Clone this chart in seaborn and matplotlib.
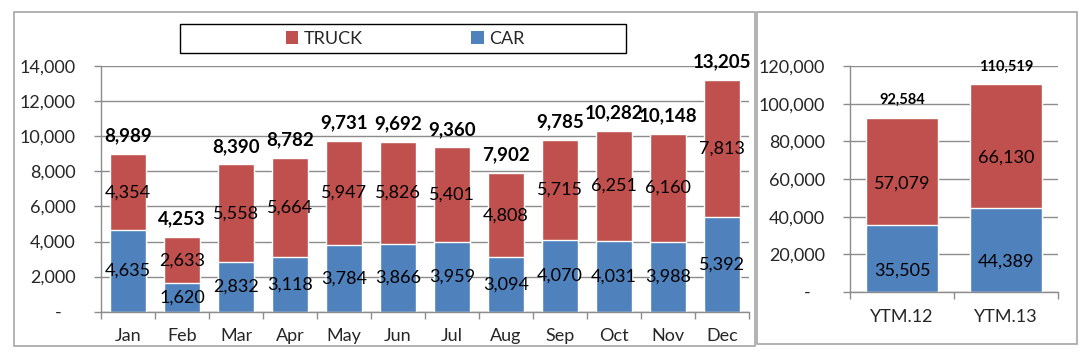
import matplotlib
matplotlib.use("Agg")
import matplotlib.pyplot as plt
from matplotlib.patches import Rectangle, Patch
from matplotlib.ticker import FixedLocator
import seaborn as sns
import pandas as pd
import numpy as np

months = ["Jan", "Feb", "Mar", "Apr", "May", "Jun", "Jul", "Aug", "Sep", "Oct", "Nov", "Dec"]
car = [4635, 1620, 2832, 3118, 3784, 3866, 3959, 3094, 4070, 4031, 3988, 5392]
truck = [4354, 2633, 5558, 5664, 5947, 5826, 5401, 4808, 5715, 6251, 6160, 7813]

ytm_labels = ["YTM.12", "YTM.13"]
ytm_car = [35505, 44389]
ytm_truck = [57079, 66130]

RED = "#C0504D"
BLUE = "#4F81BD"
GRID = "#8C8C8C"
FS = 13

sns.set_theme(style="white")
plt.rcParams["font.family"] = ["Lato", "DejaVu Sans"]

fig = plt.figure(figsize=(10.84, 3.53), dpi=100)
W, H = 1084, 353

def fx(px):
    return px / W

def fy(py):
    return 1 - py / H

axL = fig.add_axes([fx(101), fy(311.7), fx(749 - 101), (311.7 - 66) / H])
axR = fig.add_axes([fx(850), fy(292), fx(1058 - 850), (292 - 66) / H])

def draw(ax, cats, carv, truckv, ymax, ystep, width, tot_fs, tot_off, seg_off):
    df = pd.DataFrame({"cat": cats, "car": carv, "truck": truckv})
    df["total"] = df["car"] + df["truck"]
    sns.barplot(data=df, x="cat", y="total", color=RED, saturation=1, width=width, ax=ax, zorder=3)
    sns.barplot(data=df, x="cat", y="car", color=BLUE, saturation=1, width=width, ax=ax, zorder=3)
    n = len(cats)
    ax.set_xlim(-0.5, n - 0.5)
    ax.set_ylim(0, ymax)
    ticks = np.arange(0, ymax + 1, ystep)
    ax.set_yticks(ticks)
    ax.set_yticklabels(["-   "] + [f"{t:,}" for t in ticks[1:]], fontsize=FS)
    ax.grid(axis="y", color=GRID, linewidth=1, zorder=0)
    ax.set_axisbelow(True)
    ax.set_xlabel("")
    ax.set_ylabel("")
    for s in ["top", "right"]:
        ax.spines[s].set_visible(False)
    for s in ["left", "bottom"]:
        ax.spines[s].set_color(GRID)
        ax.spines[s].set_linewidth(1)
        ax.spines[s].set_zorder(4)
    ax.tick_params(axis="y", which="major", length=5, width=1, color=GRID, pad=13, left=True, direction="out")
    ax.tick_params(axis="x", which="major", length=0, pad=12, labelsize=FS)
    ax.xaxis.set_minor_locator(FixedLocator(np.arange(-0.5, n, 1.0)))
    ax.tick_params(axis="x", which="minor", length=5, width=1, color=GRID, bottom=True, direction="out")
    for lab in ax.get_xticklabels():
        lab.set_fontsize(FS)
    for i, r in df.iterrows():
        ax.annotate(f"{r['car']:,}", (i, r["car"] / 2), xytext=(0, seg_off), textcoords="offset points",
                    ha="center", va="center", fontsize=FS, color="black", zorder=5)
        ax.annotate(f"{r['truck']:,}", (i, r["car"] + r["truck"] / 2), xytext=(0, seg_off), textcoords="offset points",
                    ha="center", va="center", fontsize=FS, color="black", zorder=5)
        ax.annotate(f"{r['total']:,}", (i, r["total"]), xytext=(0, tot_off), textcoords="offset points",
                    ha="center", va="center", fontsize=tot_fs, fontweight="bold", color="black",
                    zorder=5, annotation_clip=False)

draw(axL, months, car, truck, 14000, 2000, 0.68, 13.5, 13, 0)
draw(axR, ytm_labels, ytm_car, ytm_truck, 120000, 20000, 0.69, 10.5, 12.5, -8.5)

# panel borders
fig.patches.append(Rectangle((fx(14), fy(346)), fx(755 - 14), (346 - 12) / H, transform=fig.transFigure,
                             fill=False, edgecolor="#A6A6A6", linewidth=1.2, zorder=0))
fig.patches.append(Rectangle((fx(757), fy(344)), fx(1077 - 757), (344 - 12) / H, transform=fig.transFigure,
                             fill=False, edgecolor="#A6A6A6", linewidth=1.2, zorder=0))
# legend box
fig.patches.append(Rectangle((fx(180), fy(53)), fx(626 - 180), (53 - 24) / H, transform=fig.transFigure,
                             fill=False, edgecolor="black", linewidth=1, zorder=1))
handles = [Patch(facecolor=RED, edgecolor="none"), Patch(facecolor=BLUE, edgecolor="none")]
fig.legend(handles, ["TRUCK", "CAR"], loc="center", bbox_to_anchor=(fx(405), fy(38.5)), ncol=2,
           frameon=False, fontsize=FS, handlelength=0.7, handleheight=0.7, handletextpad=0.3,
           columnspacing=6.0)

fig.savefig("out.png", dpi=100)
